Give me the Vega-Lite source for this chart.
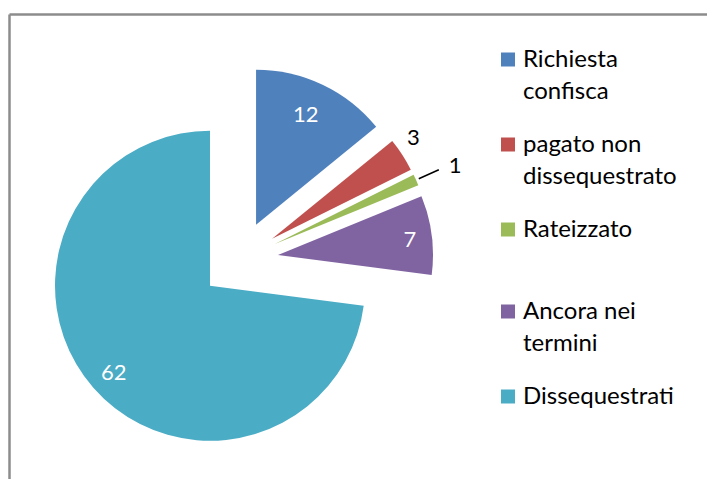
{
  "$schema": "https://vega.github.io/schema/vega-lite/v6.json",
  "width": 698,
  "height": 465,
  "autosize": {"type": "none"},
  "padding": {"left": 9, "top": 14, "right": 0, "bottom": 0},
  "background": "white",
  "config": {"view": {"stroke": null}, "font": "Lato"},
  "data": {"values": [
    {"cat": "Richiesta confisca", "value": 12},
    {"cat": "pagato non dissequestrato", "value": 3},
    {"cat": "Rateizzato", "value": 1},
    {"cat": "Ancora nei termini", "value": 7},
    {"cat": "Dissequestrati", "value": 62}
  ]},
  "transform": [
    {"window": [{"op": "sum", "field": "value", "as": "cum"}], "frame": [null, 0]},
    {"joinaggregate": [{"op": "sum", "field": "value", "as": "total"}]},
    {"calculate": "datum.cum - datum.value", "as": "start"},
    {"calculate": "datum.cum - datum.value / 2", "as": "midv"},
    {"calculate": "sin(2 * PI * datum.midv / datum.total)", "as": "ex"},
    {"calculate": "cos(2 * PI * datum.midv / datum.total)", "as": "ey"}
  ],
  "encoding": {
    "x": {"field": "ex", "type": "quantitative", "scale": {"domain": [-5.905, 11.992], "nice": false, "zero": false},
      "axis": {"orient": "top", "title": null, "labels": false, "ticks": false, "grid": false, "domain": true, "domainColor": "#8c8c8c", "domainWidth": 2.5}},
    "y": {"field": "ey", "type": "quantitative", "scale": {"domain": [-5.615, 6.308], "nice": false, "zero": false},
      "axis": {"orient": "left", "title": null, "labels": false, "ticks": false, "grid": false, "domain": true, "domainColor": "#8c8c8c", "domainWidth": 2.5}}
  },
  "layer": [
    {
      "mark": {"type": "arc", "radius": 155},
      "encoding": {
        "theta": {"field": "start", "type": "quantitative", "stack": null, "scale": {"domain": [0, 85], "nice": false, "zero": true}},
        "theta2": {"field": "cum"},
        "color": {
          "field": "cat",
          "type": "nominal",
          "scale": {
            "domain": ["Richiesta confisca", "pagato non dissequestrato", "Rateizzato", "Ancora nei termini", "Dissequestrati"],
            "range": ["#4F81BD", "#C0504D", "#9BBB59", "#8064A2", "#4BACC6"]
          },
          "legend": {
            "title": null,
            "orient": "none",
            "legendX": 487,
            "legendY": 4.5,
            "direction": "vertical",
            "symbolType": "square",
            "symbolSize": 196,
            "symbolStrokeWidth": 0,
            "labelFont": "Lato",
            "labelFontSize": 24,
            "labelOffset": 3,
            "labelLimit": 300,
            "labelColor": "black",
            "labelBaseline": "middle",
            "clipHeight": 82,
            "rowPadding": 0,
            "padding": 0,
            "labelExpr": "lastindexof(datum.label, ' ') > 0 ? [substring(datum.label, 0, lastindexof(datum.label, ' ')), substring(datum.label, lastindexof(datum.label, ' ') + 1)] : datum.label",
            "encode": {"labels": {"update": {"lineHeight": {"value": 32}}}}
          }
        }
      }
    },
    {
      "transform": [{"filter": "datum.cat == 'Richiesta confisca'"}],
      "mark": {"type": "text", "radius": 123, "dx": -3, "dy": 1.5, "fontSize": 22, "font": "Lato", "fill": "white"},
      "encoding": {
        "theta": {"field": "midv", "type": "quantitative", "stack": null, "scale": {"domain": [0, 85], "nice": false, "zero": true}},
        "text": {"field": "value", "type": "quantitative"}
      }
    },
    {
      "transform": [{"filter": "datum.cat == 'Ancora nei termini'"}],
      "mark": {"type": "text", "radius": 133, "dy": 2, "fontSize": 22, "font": "Lato", "fill": "white"},
      "encoding": {
        "theta": {"field": "midv", "type": "quantitative", "stack": null, "scale": {"domain": [0, 85], "nice": false, "zero": true}},
        "text": {"field": "value", "type": "quantitative"}
      }
    },
    {
      "transform": [{"filter": "datum.cat == 'Dissequestrati'"}],
      "mark": {"type": "text", "radius": 128, "dy": 3, "fontSize": 22, "font": "Lato", "fill": "white"},
      "encoding": {
        "theta": {"field": "midv", "type": "quantitative", "stack": null, "scale": {"domain": [0, 85], "nice": false, "zero": true}},
        "text": {"field": "value", "type": "quantitative"}
      }
    },
    {
      "transform": [{"filter": "datum.cat == 'pagato non dissequestrato'"}],
      "mark": {"type": "text", "radius": 173, "dx": -4, "dy": -7, "fontSize": 22, "font": "Lato", "fill": "black"},
      "encoding": {
        "theta": {"field": "midv", "type": "quantitative", "stack": null, "scale": {"domain": [0, 85], "nice": false, "zero": true}},
        "text": {"field": "value", "type": "quantitative"}
      }
    },
    {
      "transform": [{"filter": "datum.cat == 'Rateizzato'"}],
      "mark": {"type": "text", "radius": 198, "dy": 4, "fontSize": 22, "font": "Lato", "fill": "black"},
      "encoding": {
        "theta": {"field": "midv", "type": "quantitative", "stack": null, "scale": {"domain": [0, 85], "nice": false, "zero": true}},
        "text": {"field": "value", "type": "quantitative"}
      }
    },
    {
      "transform": [{"filter": "datum.cat == 'Rateizzato'"}],
      "mark": {"type": "arc", "radius": 180, "radius2": 158, "stroke": "black", "strokeWidth": 1.5, "fill": null},
      "encoding": {
        "theta": {"field": "midv", "type": "quantitative", "stack": null, "scale": {"domain": [0, 85], "nice": false, "zero": true}},
        "theta2": {"field": "midv"}
      }
    }
  ]
}
